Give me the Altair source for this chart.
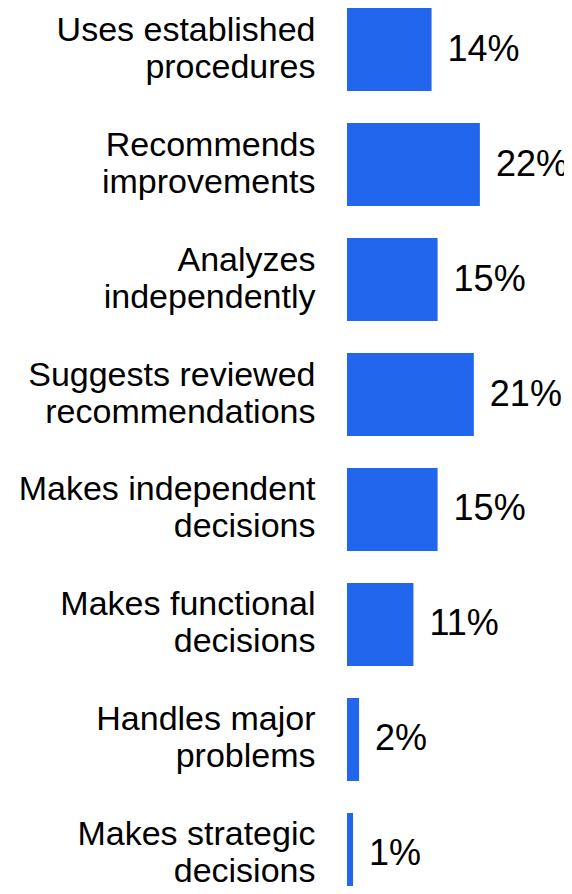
import altair as alt
import pandas as pd

categories = [
    "Uses established\nprocedures",
    "Recommends\nimprovements",
    "Analyzes\nindependently",
    "Suggests reviewed\nrecommendations",
    "Makes independent\ndecisions",
    "Makes functional\ndecisions",
    "Handles major\nproblems",
    "Makes strategic\ndecisions",
]
values = [14, 22, 15, 21, 15, 11, 2, 1]
value_labels = [f"{v}%" for v in values]

df = pd.DataFrame({"category": categories, "value": values, "label": value_labels})

FONT = "Liberation Sans"

y = alt.Y(
    "category:N",
    sort=categories,
    scale=alt.Scale(paddingInner=0.278, paddingOuter=0, range=[0, 888]),
    axis=alt.Axis(
        title=None,
        labelExpr="split(datum.label, '\\n')",
        labelFontSize=34,
        labelLineHeight=37,
        labelPadding=32,
        labelOffset=-19,
        labelFont=FONT,
        labelColor="black",
        labelLimit=0,
        domain=False,
        ticks=False,
    ),
)
x = alt.X("value:Q", scale=alt.Scale(domain=[0, 25]), axis=None)

base = alt.Chart(df).encode(y=y)
bars = base.mark_bar(color="#2266EE").encode(x=x)
text = base.mark_text(
    align="left", baseline="middle", dx=16, fontSize=36, font=FONT, color="black"
).encode(x=x, text="label:N")

chart = (
    (bars + text)
    .properties(
        width=151,
        height=878,
        autosize=alt.AutoSizeParams(type="none"),
        padding={"left": 339, "top": 0, "right": 66, "bottom": 0},
    )
    .configure_view(stroke=None)
)

chart.save("out.html", embed_options={"renderer": "svg", "actions": False})
